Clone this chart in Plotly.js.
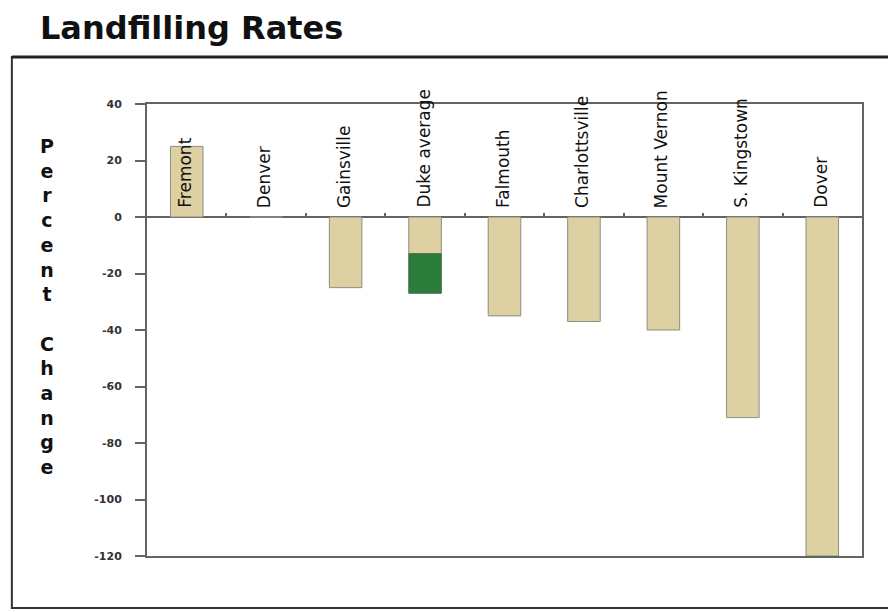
<!DOCTYPE html>
<html>
<head>
<meta charset="utf-8">
<script src="https://cdn.plot.ly/plotly-3.0.1.min.js"></script>
<style>html,body{margin:0;padding:0;background:#fff;}#chart{width:888px;height:612px;}</style>
</head>
<body>
<div id="chart"></div>
<script>
var categories = ["Fremont", "Denver", "Gainsville", "Duke average", "Falmouth", "Charlottsville", "Mount Vernon", "S. Kingstown", "Dover"];
var baseValues = [25, 0, -25, -13, -35, -37, -40, -71, -120];
var dukeExtra = [null, null, null, -14, null, null, null, null, null];
var yTicks = [40, 20, 0, -20, -40, -60, -80, -100, -120];

var idx = categories.map(function(c, i){ return i; });
var axisColor = "#5d6660";

var traces = [
  {type: "bar", x: idx, y: baseValues, width: 0.41,
   marker: {color: "#ddd0a2", line: {color: "#8a8f80", width: 1}}, hoverinfo: "skip"},
  {type: "bar", x: idx, y: dukeExtra, width: 0.41,
   marker: {color: "#2b7d3b", line: {color: "#4a6a50", width: 1}}, hoverinfo: "skip"},
  {type: "scatter", x: [0], y: [null], xaxis: "x2", hoverinfo: "skip"}
];

var annotations = categories.map(function(c, i){
  return {x: i, y: 0, xref: "x", yref: "y", text: c, textangle: -90,
          showarrow: false, xanchor: "center", yanchor: "bottom", yshift: 7, xshift: -2,
          font: {family: "DejaVu Sans, sans-serif", size: 17, color: "#111"}};
});
annotations.push({
  xref: "paper", yref: "paper", x: -0.14, y: 0.551, xanchor: "center", yanchor: "middle",
  text: "P<br>e<br>r<br>c<br>e<br>n<br>t<br> <br>C<br>h<br>a<br>n<br>g<br>e",
  showarrow: false, align: "center",
  font: {family: "DejaVu Sans, sans-serif", size: 19, color: "#111", weight: "bold"}
});

var layout = {
  width: 888, height: 612,
  margin: {l: 147, r: 26, t: 104, b: 56},
  paper_bgcolor: "#fff", plot_bgcolor: "#fff",
  barmode: "relative",
  showlegend: false,
  title: {text: "<b>Landfilling Rates</b>", x: 0.045, xanchor: "left", y: 0.937, yanchor: "bottom",
          font: {family: "DejaVu Sans, sans-serif", size: 32, color: "#111"}},
  xaxis: {range: [-0.5, 8.5], showticklabels: false, ticks: "", showgrid: false, zeroline: false,
          showline: true, linecolor: axisColor, linewidth: 2, mirror: true},
  xaxis2: {overlaying: "x", anchor: "free", position: 0.75, range: [-0.5, 8.5],
           tickvals: [0.5, 1.5, 2.5, 3.5, 4.5, 5.5, 6.5, 7.5], ticks: "inside", ticklen: 4,
           tickwidth: 2, tickcolor: axisColor, showticklabels: false, showgrid: false,
           zeroline: false, showline: false},
  yaxis: {range: [-120, 40], tickvals: yTicks, ticktext: yTicks.map(String),
          ticks: "outside", ticklen: 10, tickwidth: 2, tickcolor: axisColor, ticklabelstandoff: 11,
          tickfont: {family: "DejaVu Sans, sans-serif", size: 11, color: "#333", weight: "bold"},
          showgrid: false, zeroline: true, zerolinecolor: axisColor, zerolinewidth: 2,
          showline: true, linecolor: axisColor, linewidth: 2, mirror: true},
  shapes: [
    {type: "rect", xref: "paper", yref: "paper", x0: -0.189, x1: 1.2, y0: -0.115, y1: 1.104,
     line: {color: "#333", width: 2}},
    {type: "line", xref: "paper", yref: "paper", x0: -0.189, x1: 1.2, y0: 1.104, y1: 1.104,
     line: {color: "#222", width: 3}}
  ],
  annotations: annotations
};

Plotly.newPlot("chart", traces, layout, {staticPlot: true});
</script>
</body>
</html>
